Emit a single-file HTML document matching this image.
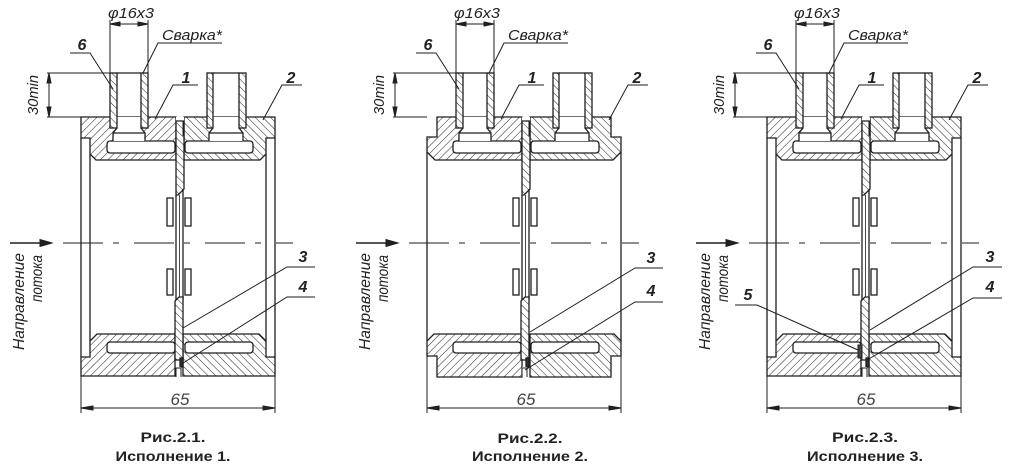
<!DOCTYPE html>
<html><head><meta charset="utf-8"><style>
html,body{margin:0;padding:0;background:#fff;width:1024px;height:472px;overflow:hidden}
svg{display:block}
text{font-family:"Liberation Sans",sans-serif;fill:#222}
.it{font-style:italic}
.lb{font-style:italic;font-weight:bold;font-size:16px}
.cap{font-weight:bold;font-size:14px}
</style></head><body>
<svg width="1024" height="472" viewBox="0 0 1024 472" xmlns="http://www.w3.org/2000/svg">
<defs>
<pattern id="hA" patternUnits="userSpaceOnUse" width="5.4" height="5.4" patternTransform="rotate(45)"><rect width="5.4" height="5.4" fill="#fff"/><line x1="0" y1="0" x2="0" y2="5.4" stroke="#2a2a2a" stroke-width="1.05"/></pattern>
<pattern id="hB" patternUnits="userSpaceOnUse" width="5.4" height="5.4" patternTransform="rotate(-45)"><rect width="5.4" height="5.4" fill="#fff"/><line x1="0" y1="0" x2="0" y2="5.4" stroke="#2a2a2a" stroke-width="1.05"/></pattern>

<g id="body1" stroke="#1e1e1e" stroke-width="1.3">
<path d="M81,117 H176 V160 H96 L90,154 V138 H81 Z" fill="url(#hA)"/>
<path d="M184,117 H275 V138 H266 V154 L260,160 H184 Z" fill="url(#hB)"/>
<path d="M90,357 V341 L97,334 H175 V376 H81 V357 Z" fill="url(#hA)"/>
<path d="M266,357 V341 L259,334 H183 V376 H275 V357 Z" fill="url(#hB)"/>
<line x1="81" y1="138" x2="81" y2="357"/>
<line x1="90" y1="154" x2="90" y2="341"/>
<line x1="266" y1="154" x2="266" y2="341"/>
<line x1="275" y1="138" x2="275" y2="357"/>
</g>

<g id="body2" stroke="#1e1e1e" stroke-width="1.3">
<path d="M91,117 H176 V160 H89 L81,152 V137 H91 Z" fill="url(#hA)"/>
<path d="M184,117 H265 V137 H275 V152 L267,160 H184 Z" fill="url(#hB)"/>
<path d="M81,356 V341 L88,334 H176 V377 H91 V356 Z" fill="url(#hA)"/>
<path d="M275,356 V341 L268,334 H184 V377 H265 V356 Z" fill="url(#hB)"/>
<line x1="81" y1="152" x2="81" y2="341"/>
<line x1="275" y1="152" x2="275" y2="341"/>
</g>

<g id="common" stroke="#1e1e1e" stroke-width="1.3">
<rect x="107" y="141" width="68" height="12" rx="3" fill="#fff"/>
<rect x="185" y="141" width="68" height="12" rx="3" fill="#fff"/>
<rect x="107" y="342" width="68" height="11" rx="3" fill="#fff"/>
<rect x="185" y="342" width="68" height="11" rx="3" fill="#fff"/>
<path d="M117,117 H141 V128 L145,133 V141 H113 V133 L117,128 Z" fill="#fff" stroke="none"/>
<path d="M117,128 L113,133 V141 M141,128 L145,133 V141 M113,133 H145" fill="none"/>
<path d="M213,117 H239 V128 L243,133 V141 H209 V133 L213,128 Z" fill="#fff" stroke="none"/>
<path d="M213,128 L209,133 V141 M239,128 L243,133 V141 M209,133 H243" fill="none"/>
<rect x="110" y="73" width="7" height="55" fill="url(#hB)"/>
<rect x="141" y="73" width="7" height="55" fill="url(#hB)"/>
<rect x="207" y="73" width="6" height="55" fill="url(#hB)"/>
<rect x="239" y="73" width="7" height="55" fill="url(#hB)"/>
<line x1="117" y1="73" x2="141" y2="73"/>
<line x1="213" y1="73" x2="239" y2="73"/>
<rect x="176" y="117" width="8" height="5" fill="#fff" stroke="none"/>
<path d="M176,121 H184 V189 L178,195 H176 Z" fill="url(#hB)"/>
<line x1="183.5" y1="121" x2="183.5" y2="136" stroke-width="2"/>
<line x1="176" y1="195" x2="176" y2="300"/>
<line x1="183" y1="189" x2="183" y2="300"/>
<line x1="179.5" y1="195" x2="179.5" y2="298" stroke-width="0.8"/>
<rect x="167" y="198" width="6" height="28" fill="#fff"/>
<rect x="185" y="198" width="6" height="28" fill="#fff"/>
<rect x="167" y="269" width="6" height="26" fill="#fff"/>
<rect x="185" y="269" width="6" height="26" fill="#fff"/>
<path d="M175,301 L179,297 H183 V360 H175 Z" fill="url(#hB)"/>
<rect x="180" y="358" width="3" height="9" fill="#333"/>
<rect x="176" y="367" width="5" height="10" fill="#fff" stroke="none"/>
<path d="M176,377 V368 H181 V377" fill="none" stroke-width="1"/>
</g>

<g id="dims" stroke="#1e1e1e" stroke-width="1" fill="none">
<line x1="110" y1="20" x2="110" y2="73"/>
<line x1="148" y1="20" x2="148" y2="73"/>
<line x1="110" y1="24" x2="148" y2="24"/>
<path d="M110,24 l10,-2 v4 Z M148,24 l-10,-2 v4 Z" fill="#222"/>
<line x1="47" y1="73" x2="110" y2="73"/>
<line x1="47" y1="117" x2="81" y2="117"/>
<line x1="49" y1="73" x2="49" y2="117"/>
<path d="M49,73 l-2,10 h4 Z M49,117 l-2,-10 h4 Z" fill="#222"/>
<line x1="81" y1="356" x2="81" y2="413"/>
<line x1="275" y1="356" x2="275" y2="413"/>
<line x1="81" y1="408" x2="275" y2="408"/>
<path d="M81,408 l12,-2 v4 Z M275,408 l-12,-2 v4 Z" fill="#222"/>
<line x1="10" y1="243" x2="44" y2="243" stroke-width="1.6"/>
<path d="M52,243 l-12,-3.5 v7 Z" fill="#222"/>
<line x1="63" y1="243" x2="293" y2="243" stroke-dasharray="40,10,6,15"/>
<path d="M70,53 H90 L113,89"/>
<path d="M222,43 H158 L143,73"/>
<path d="M198,85 H173 L155,119"/>
<path d="M302,85 H282 L263,120"/>
</g>
</defs>

<!-- ================= FIG 1 ================= -->
<g>
<use href="#body1"/>
<use href="#common"/>
<use href="#dims"/>
<g stroke="#1e1e1e" stroke-width="1" fill="none">
<path d="M315,267 H287 L183,328"/>
<path d="M315,297 H287 L180,365"/>
</g>
<text class="it" x="131" y="18" font-size="15" text-anchor="middle" textLength="46" lengthAdjust="spacingAndGlyphs">φ16x3</text>
<text class="it" x="162" y="40" font-size="15" textLength="60" lengthAdjust="spacingAndGlyphs">Сварка*</text>
<text class="lb" x="82" y="50" text-anchor="middle">6</text>
<text class="lb" x="186" y="83" text-anchor="middle">1</text>
<text class="lb" x="291" y="83" text-anchor="middle">2</text>
<text class="lb" x="303" y="262" text-anchor="middle">3</text>
<text class="lb" x="303" y="292" text-anchor="middle">4</text>
<text class="it" font-size="15" text-anchor="middle" textLength="40" lengthAdjust="spacingAndGlyphs" transform="translate(38,95) rotate(-90)">30min</text>
<text class="it" font-size="16" textLength="97" lengthAdjust="spacingAndGlyphs" transform="translate(24,350) rotate(-90)">Направление</text>
<text class="it" font-size="16" textLength="47" lengthAdjust="spacingAndGlyphs" transform="translate(42,302) rotate(-90)">потока</text>
<text class="it" x="180" y="405" font-size="17" text-anchor="middle" style="fill:#444">65</text>
<text class="cap" x="173" y="442" text-anchor="middle" textLength="65" lengthAdjust="spacingAndGlyphs">Рис.2.1.</text>
<text class="cap" x="173" y="461" text-anchor="middle" textLength="115" lengthAdjust="spacingAndGlyphs">Исполнение 1.</text>
</g>

<!-- ================= FIG 2 ================= -->
<g transform="translate(346,0)">
<use href="#body2"/>
<use href="#common"/>
<use href="#dims"/>
<g stroke="#1e1e1e" stroke-width="1" fill="none">
<path d="M317,268 H289 L184,332"/>
<path d="M317,302 H289 L179,370"/>
</g>
<text class="it" x="131" y="18" font-size="15" text-anchor="middle" textLength="46" lengthAdjust="spacingAndGlyphs">φ16x3</text>
<text class="it" x="162" y="40" font-size="15" textLength="60" lengthAdjust="spacingAndGlyphs">Сварка*</text>
<text class="lb" x="82" y="50" text-anchor="middle">6</text>
<text class="lb" x="186" y="83" text-anchor="middle">1</text>
<text class="lb" x="291" y="83" text-anchor="middle">2</text>
<text class="lb" x="305" y="263" text-anchor="middle">3</text>
<text class="lb" x="305" y="296" text-anchor="middle">4</text>
<text class="it" font-size="15" text-anchor="middle" textLength="40" lengthAdjust="spacingAndGlyphs" transform="translate(38,95) rotate(-90)">30min</text>
<text class="it" font-size="16" textLength="97" lengthAdjust="spacingAndGlyphs" transform="translate(24,350) rotate(-90)">Направление</text>
<text class="it" font-size="16" textLength="47" lengthAdjust="spacingAndGlyphs" transform="translate(42,302) rotate(-90)">потока</text>
<text class="it" x="180" y="405" font-size="17" text-anchor="middle" style="fill:#444">65</text>
<text class="cap" x="184" y="443" text-anchor="middle" textLength="65" lengthAdjust="spacingAndGlyphs">Рис.2.2.</text>
<text class="cap" x="184" y="461" text-anchor="middle" textLength="116" lengthAdjust="spacingAndGlyphs">Исполнение 2.</text>
</g>

<!-- ================= FIG 3 ================= -->
<g transform="translate(686,0)">
<use href="#body1"/>
<use href="#common"/>
<use href="#dims"/>
<rect x="172" y="345" width="4" height="13" fill="#444" stroke="#222" stroke-width="1"/>
<g stroke="#1e1e1e" stroke-width="1" fill="none">
<path d="M316,267 H287 L184,330"/>
<path d="M316,298 H287 L181,360"/>
<path d="M49,305 H71 L172,350"/>
</g>
<text class="it" x="131" y="18" font-size="15" text-anchor="middle" textLength="46" lengthAdjust="spacingAndGlyphs">φ16x3</text>
<text class="it" x="162" y="40" font-size="15" textLength="60" lengthAdjust="spacingAndGlyphs">Сварка*</text>
<text class="lb" x="82" y="50" text-anchor="middle">6</text>
<text class="lb" x="186" y="83" text-anchor="middle">1</text>
<text class="lb" x="291" y="83" text-anchor="middle">2</text>
<text class="lb" x="304" y="262" text-anchor="middle">3</text>
<text class="lb" x="304" y="292" text-anchor="middle">4</text>
<text class="lb" x="62" y="300" text-anchor="middle">5</text>
<text class="it" font-size="15" text-anchor="middle" textLength="40" lengthAdjust="spacingAndGlyphs" transform="translate(38,95) rotate(-90)">30min</text>
<text class="it" font-size="16" textLength="97" lengthAdjust="spacingAndGlyphs" transform="translate(24,350) rotate(-90)">Направление</text>
<text class="it" font-size="16" textLength="47" lengthAdjust="spacingAndGlyphs" transform="translate(42,302) rotate(-90)">потока</text>
<text class="it" x="180" y="405" font-size="17" text-anchor="middle" style="fill:#444">65</text>
<text class="cap" x="179" y="442" text-anchor="middle" textLength="66" lengthAdjust="spacingAndGlyphs">Рис.2.3.</text>
<text class="cap" x="179" y="461" text-anchor="middle" textLength="116" lengthAdjust="spacingAndGlyphs">Исполнение 3.</text>
</g>
</svg>
</body></html>
